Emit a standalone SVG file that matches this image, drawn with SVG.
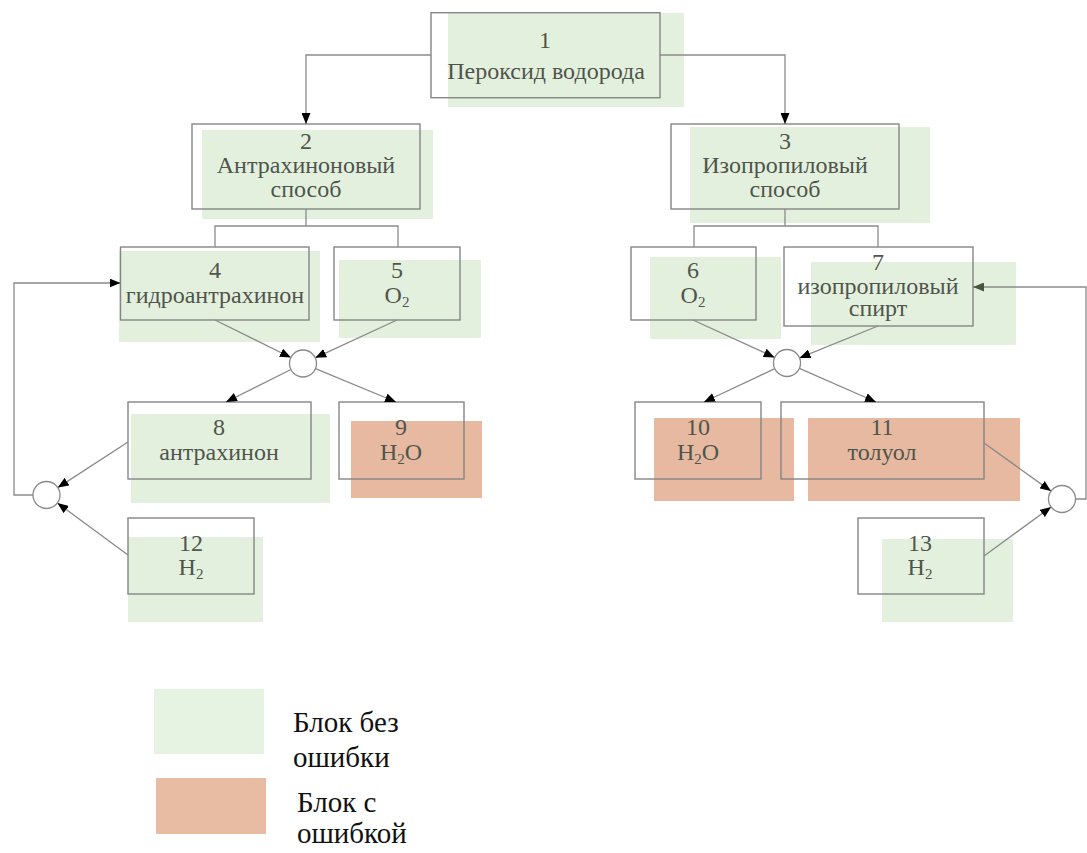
<svg xmlns="http://www.w3.org/2000/svg" width="1087" height="853" viewBox="0 0 1087 853">
<style>
.ok{fill:#e4f0de}
.err{fill:#e7b9a0}
.box{fill:none;stroke:#858585;stroke-width:1.4}
.t{font-family:"Liberation Serif","Times New Roman",serif;font-size:24px;fill:#4f554c;text-anchor:middle}
.lg{font-family:"Liberation Serif","Times New Roman",serif;font-size:29px;fill:#111}
.c{fill:none;stroke:#8a8a8a;stroke-width:1.3}
.j{fill:#fff;stroke:#8a8a8a;stroke-width:1.3}
</style>
<defs>
<marker id="ah" markerWidth="11" markerHeight="9" refX="11" refY="4.5" orient="auto" markerUnits="userSpaceOnUse">
<path d="M0,0 L11,4.5 L0,9 Z" fill="#000"/>
</marker>
<marker id="ah2" markerWidth="11" markerHeight="9" refX="11" refY="4.5" orient="auto" markerUnits="userSpaceOnUse">
<path d="M0,0 L11,4.5 L0,9 Z" fill="#4a5540"/>
</marker>
</defs>
<rect width="1087" height="853" fill="#fff"/>

<g id="n1">
<rect class="ok" x="448" y="13" width="236" height="94"/>
<rect class="box" x="431" y="12.7" width="229" height="85"/>
<text class="t" x="545" y="48">1</text>
<text class="t" x="546" y="79">Пероксид водорода</text>
</g>
<g id="n2">
<rect class="ok" x="202" y="130" width="231" height="89"/>
<rect class="box" x="192" y="124" width="228" height="85"/>
<text class="t" x="306" y="149">2</text>
<text class="t" x="306" y="173">Антрахиноновый</text>
<text class="t" x="306" y="197">способ</text>
</g>
<g id="n3">
<rect class="ok" x="690" y="127" width="240" height="96"/>
<rect class="box" x="671" y="124" width="228" height="85"/>
<text class="t" x="785" y="149">3</text>
<text class="t" x="785" y="173">Изопропиловый</text>
<text class="t" x="785" y="197">способ</text>
</g>
<g id="n4">
<rect class="ok" x="119" y="251" width="201" height="91"/>
<rect class="box" x="120.5" y="247" width="188.5" height="73"/>
<text class="t" x="215" y="278">4</text>
<text class="t" x="215" y="303">гидроантрахинон</text>
</g>
<g id="n5">
<rect class="ok" x="339" y="260" width="142" height="78"/>
<rect class="box" x="334" y="247" width="126" height="73"/>
<text class="t" x="397" y="278">5</text>
<text class="t" x="397" y="303">O<tspan font-size="15" dy="4">2</tspan></text>
</g>
<g id="n6">
<rect class="ok" x="650" y="257" width="131" height="82"/>
<rect class="box" x="631" y="247" width="125" height="73"/>
<text class="t" x="693" y="278">6</text>
<text class="t" x="693" y="303">O<tspan font-size="15" dy="4">2</tspan></text>
</g>
<g id="n7">
<rect class="ok" x="811" y="262" width="205" height="83"/>
<rect class="box" x="784" y="247" width="189" height="79"/>
<text class="t" x="878" y="270">7</text>
<text class="t" x="878" y="294">изопропиловый</text>
<text class="t" x="878" y="316">спирт</text>
</g>
<g id="n8">
<rect class="ok" x="131" y="414" width="199" height="89"/>
<rect class="box" x="128" y="402" width="183" height="77"/>
<text class="t" x="219" y="435">8</text>
<text class="t" x="219" y="460">антрахинон</text>
</g>
<g id="n9">
<rect class="err" x="351" y="421" width="131" height="77"/>
<rect class="box" x="339" y="402" width="125" height="77"/>
<text class="t" x="401" y="435">9</text>
<text class="t" x="401" y="460">H<tspan font-size="15" dy="4">2</tspan><tspan dy="-4">O</tspan></text>
</g>
<g id="n10">
<rect class="err" x="654" y="418" width="140" height="83"/>
<rect class="box" x="635" y="402" width="126" height="77"/>
<text class="t" x="698" y="435">10</text>
<text class="t" x="698" y="460">H<tspan font-size="15" dy="4">2</tspan><tspan dy="-4">O</tspan></text>
</g>
<g id="n11">
<rect class="err" x="808" y="418" width="212" height="83"/>
<rect class="box" x="781" y="402" width="203" height="77"/>
<text class="t" x="882" y="435">11</text>
<text class="t" x="882" y="460">толуол</text>
</g>
<g id="n12">
<rect class="ok" x="128" y="537" width="135" height="85"/>
<rect class="box" x="128" y="518" width="126" height="76"/>
<text class="t" x="191" y="551">12</text>
<text class="t" x="191" y="575">H<tspan font-size="15" dy="4">2</tspan></text>
</g>
<g id="n13">
<rect class="ok" x="882" y="539" width="131" height="83"/>
<rect class="box" x="858" y="518" width="126" height="76"/>
<text class="t" x="920" y="551">13</text>
<text class="t" x="920" y="575">H<tspan font-size="15" dy="4">2</tspan></text>
</g>

<g id="connectors">
<path class="c" d="M431,55 H306 V124" marker-end="url(#ah)"/>
<path class="c" d="M660,55 H785 V124" marker-end="url(#ah)"/>
<path class="c" d="M306,209 V226 M215,247 V226 H398 V247"/>
<path class="c" d="M785,209 V226 M694,247 V226 H878 V247"/>
<line class="c" x1="215" y1="320" x2="290.9" y2="357.5" marker-end="url(#ah)"/>
<line class="c" x1="397" y1="320" x2="315.2" y2="357.8" marker-end="url(#ah)"/>
<line class="c" x1="290.9" y1="369.5" x2="226" y2="402" marker-end="url(#ah)"/>
<line class="c" x1="315.5" y1="368.7" x2="396" y2="402" marker-end="url(#ah)"/>
<line class="c" x1="128" y1="442" x2="57.8" y2="487.6" marker-end="url(#ah)"/>
<line class="c" x1="128" y1="555" x2="57.4" y2="503" marker-end="url(#ah)"/>
<path class="c" d="M33,495 H14 V283 H120.5" marker-end="url(#ah)"/>
<line class="c" x1="693" y1="320" x2="774.7" y2="357.4" marker-end="url(#ah)"/>
<line class="c" x1="878" y1="326" x2="799.5" y2="357.9" marker-end="url(#ah)"/>
<line class="c" x1="774.8" y1="368.7" x2="704" y2="402" marker-end="url(#ah)"/>
<line class="c" x1="799.4" y1="368.4" x2="876" y2="402" marker-end="url(#ah)"/>
<line class="c" x1="984" y1="443" x2="1051" y2="491.1" marker-end="url(#ah)"/>
<line class="c" x1="984" y1="556" x2="1051.1" y2="507" marker-end="url(#ah)"/>
<path class="c" d="M1075.5,499 H1086 V287 H973" marker-end="url(#ah2)"/>
<circle class="j" cx="303" cy="363.5" r="13.5"/>
<circle class="j" cx="46.5" cy="495" r="13.5"/>
<circle class="j" cx="787" cy="363" r="13.5"/>
<circle class="j" cx="1062" cy="499" r="13.5"/>
</g>

<g id="legend">
<rect x="154" y="689" width="110" height="65" fill="#e6f2e2"/>
<rect x="156" y="778" width="110" height="56" fill="#e8bca2"/>
<text class="lg" x="293" y="732">Блок без</text>
<text class="lg" x="293" y="767">ошибки</text>
<text class="lg" x="297" y="812">Блок с</text>
<text class="lg" x="297" y="843">ошибкой</text>
</g>
</svg>
